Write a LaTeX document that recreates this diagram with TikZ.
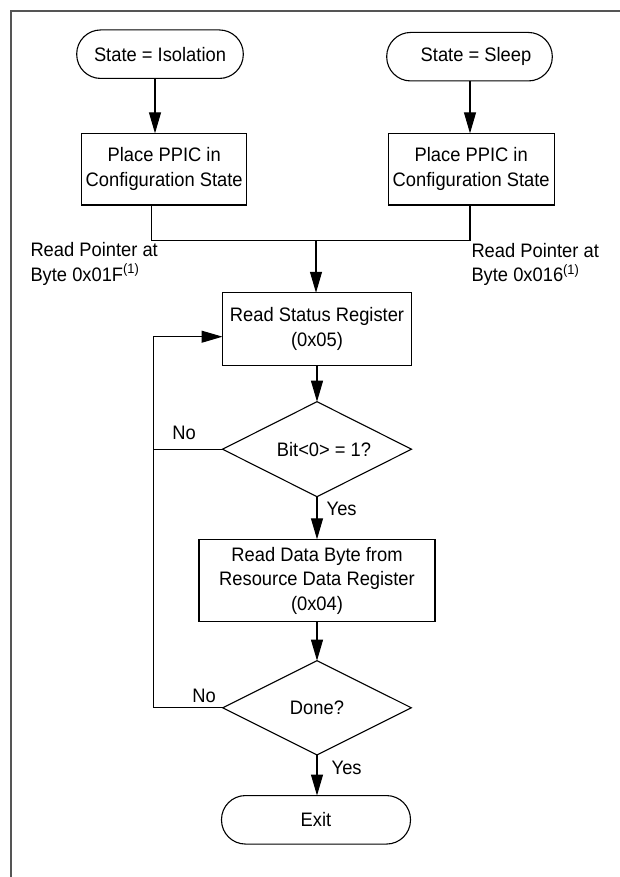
\documentclass[tikz,border=0pt]{standalone}
\usepackage{fontspec}
\setmainfont[FakeStretch=0.94]{Liberation Sans}
\usetikzlibrary{arrows.meta,shapes.geometric}
\definecolor{framegray}{HTML}{555555}
\begin{document}
\begin{tikzpicture}[x=1pt,y=-1pt,
  every node/.style={font=\fontsize{19.5}{24.5}\selectfont, inner sep=0pt, outer sep=0pt},
  wire/.style={line width=1.1pt, draw=black},
  flow/.style={wire, -{Triangle[length=21pt,width=12pt]}},
  terminal/.style={draw, line width=1.1pt, rounded corners=24pt, minimum height=48.5pt},
  process/.style={draw, line width=1.1pt, align=center},
  decision/.style={diamond, aspect=2, draw, line width=1.1pt},
  tag/.style={align=left}
]
\useasboundingbox (0,0) rectangle (620,877);

% outer frame (only top and left edges fall inside the page)
\draw[framegray, line width=2pt] (11,877) -- (11,11) -- (620,11);

% start states
\node[terminal, minimum width=166.6pt] (iso) at (160,54.2) {State = Isolation};
\node[terminal, minimum width=165.6pt] (slp) at (469.5,56.7) {\hspace*{13pt}State = Sleep};

% configuration steps
\node[process, minimum width=165pt, minimum height=71.7pt] (cfgL) at (164.2,169.2) {Place PPIC in\\Configuration State};
\node[process, minimum width=165.7pt, minimum height=71.7pt] (cfgR) at (471.2,169.2) {Place PPIC in\\Configuration State};

% read pointer notes
\node[tag, anchor=west] (ptrL) at (30.5,264) {Read Pointer at\\Byte 0x01F\textsuperscript{(1)}};
\node[tag, anchor=west] (ptrR) at (471.5,264.5) {Read Pointer at\\Byte 0x016\textsuperscript{(1)}};

% main loop
\node[process, minimum width=189pt, minimum height=72.3pt] (rsr) at (317,328.9) {Read Status Register\\(0x05)};
\node[decision, minimum width=189pt, minimum height=95pt] (d1) at (317,449.2) {\hspace*{14pt}Bit<0> = 1?};
\node[process, minimum width=236pt, minimum height=82.4pt] (rdb) at (317,580.5) {Read Data Byte from\\Resource Data Register\\(0x04)};
\node[decision, minimum width=188.7pt, minimum height=94.3pt] (d2) at (317,707.8) {Done?};
\node[terminal, minimum width=189pt] (exit) at (316,819.8) {Exit};

% branch labels
\node (no1) at (184,433.3) {No};
\node[anchor=west] (yes1) at (326.7,509) {Yes};
\node (no2) at (204,696) {No};
\node[anchor=west] (yes2) at (331.7,768) {Yes};

% helper coordinates for connector routing
\coordinate (xa) at (155,0);
\coordinate (xb) at (470,0);
\coordinate (xl) at (151.7,0);
\coordinate (jn) at (316,240.7);
\coordinate (lx) at (153.3,0);
\coordinate (ly) at (0,336.7);

% connectors
\draw[flow] (iso.south -| xa) -- (cfgL.north -| xa);
\draw[flow] (slp.south -| xb) -- (cfgR.north -| xb);
\draw[wire] (cfgL.south -| xl) |- (jn) -| (cfgR.south -| xb);
\draw[flow] (jn) -- (jn |- rsr.north);
\draw[flow] (rsr.south) -- (d1.north);
\draw[flow] (d1.south) -- (rdb.north);
\draw[flow] (rdb.south) -- (d2.north);
\draw[flow] (d2.south) -- (exit.north -| d2.south);
\draw[wire] (d1.west) -- (d1.west -| lx);
\draw[flow] (d2.west) -| (lx |- ly) -- (rsr.west |- ly);
\end{tikzpicture}
\end{document}
